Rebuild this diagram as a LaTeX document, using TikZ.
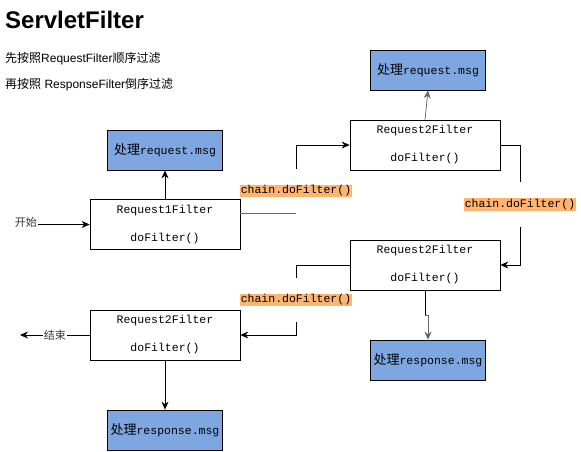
\documentclass[tikz,border=0pt]{standalone}
\usepackage{fontspec}
\setmainfont{Liberation Sans}
\setmonofont{Liberation Mono}
\newfontfamily\cjk{Noto Sans CJK SC}
\usetikzlibrary{arrows.meta}
\definecolor{msgblue}{HTML}{7EA6E0}
\definecolor{callorange}{HTML}{FFB570}
\setlength{\fboxsep}{1pt}
\newcommand{\chaincall}{\colorbox{callorange}{\ttfamily\fontsize{11.5}{12}\selectfont chain.doFilter()}}
\newcommand{\msgtext}[1]{{\cjk\fontsize{13}{13}\selectfont 处理}{\ttfamily\fontsize{11.5}{12}\selectfont #1.msg}}

\begin{document}
\begin{tikzpicture}[x=1pt,y=1pt,yscale=-1,
    filterbox/.style={draw, fill=white, line width=0.75, minimum width=150, minimum height=50, inner sep=0,
        align=center, font=\fontsize{11.5}{28}\selectfont\ttfamily},
    msgbox/.style={draw, fill=msgblue, line width=0.75, minimum width=115, minimum height=40, inner sep=0},
    callgap/.style={inner sep=0, minimum height=44, font=\fontsize{11.5}{12}\selectfont},
    endlbl/.style={inner sep=1, font=\cjk\fontsize{11}{11}\selectfont, text=black!80},
    flow/.style={line width=0.75, -{Stealth[length=8,width=7]}},
    plain/.style={line width=0.75}]
        \useasboundingbox (0,0) rectangle (581,451);
        % title and notes
        \node [anchor=base west, inner sep=0, font=\bfseries\fontsize{24}{24}\selectfont] (title) at (5,28) {ServletFilter};
        \node [anchor=base west, inner sep=0, font=\fontsize{12}{14}\selectfont] (note1) at (5,62) {{\cjk 先按照}RequestFilter{\cjk 顺序过滤}};
        \node [anchor=base west, inner sep=0, font=\fontsize{12}{14}\selectfont] (note2) at (5,88) {{\cjk 再按照} ResponseFilter{\cjk 倒序过滤}};

        % filter boxes
        \node [filterbox] (r1) at (165,224.5) {Request1Filter\\doFilter()};
        \node [filterbox] (r2up) at (425,145) {Request2Filter\\doFilter()};
        \node [filterbox] (r2down) at (425,265) {Request2Filter\\doFilter()};
        \node [filterbox] (r3) at (165,335) {Request2Filter\\doFilter()};

        % message boxes
        \node [msgbox] (req1) at (165,150) {\msgtext{request}};
        \node [msgbox] (req2) at (428,70) {\msgtext{request}};
        \node [msgbox] (resp2) at (428,360) {\msgtext{response}};
        \node [msgbox] (resp1) at (165,430) {\msgtext{response}};

        % chain.doFilter() labels
        \node [callgap] (c1) at (296,191) {\chaincall};
        \node [callgap] (c2) at (520,204.5) {\chaincall};
        \node [callgap] (c3) at (296,300) {\chaincall};

        % start / end
        \node [endlbl, anchor=east] (begin) at (38,222) {开始};
        \coordinate (exit) at (20,335);

        \draw [flow] (begin.east |- r1.west) -- (r1.west);
        \draw [flow] (r1.north) -- (req1.south);
        \draw [plain, black!60] (r1.east |- c1.south) -- (c1.south);
        \draw [flow] (c1.north) |- (r2up.west);
        \draw [flow, black!60] (r2up.north) -- (req2.south);
        \draw [plain] (r2up.east) -| (c2.north);
        \draw [flow] (c2.south) |- (r2down.east);
        \draw [plain] (r2down.south) -- ++(0,25) coordinate (bend);
        \draw [flow, black!60] (bend) -| (resp2.north);
        \draw [plain] (r2down.west) -| (c3.north);
        \draw [flow] (c3.south) |- (r3.east);
        \draw [flow] (r3.south) -- (resp1.north);
        \draw [flow] (r3.west) -- node [endlbl, fill=white] (finish) {结束} (exit);
\end{tikzpicture}
\end{document}
